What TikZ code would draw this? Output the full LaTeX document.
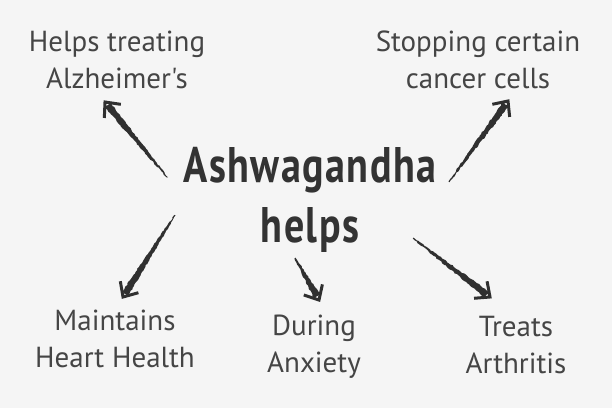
\documentclass[tikz,border=0pt]{standalone}
\usepackage{fontspec}
\setmainfont{PT Sans}
\newfontfamily\handfont{PT Sans}
\newfontfamily\titlefont[FakeStretch=0.8,LetterSpace=3]{PT Sans}
\usetikzlibrary{calc,decorations.pathmorphing}
\definecolor{bg}{HTML}{F5F5F5}
\definecolor{ink}{HTML}{333333}
\definecolor{hand}{HTML}{454545}
\definecolor{chalkc}{HTML}{303030}
\tikzset{
  label/.style={anchor=base, align=center, inner sep=0pt, text=hand,
    font=\handfont\fontsize{29}{37}\selectfont},
  titlelbl/.style={anchor=base, align=center, inner sep=0pt, text=ink,
    font=\titlefont\bfseries\fontsize{50}{60}\selectfont},
  chalk/.style={fill=chalkc, decorate, decoration={random steps, segment length=2pt, amplitude=0.6pt}},
  chalkhead/.style={draw=chalkc, line width=3pt, line join=miter, line cap=butt}
}
\newcommand\chalkarrow[2]{%
  \path ($(#2)!4pt!(#1)$) coordinate (ce);
  \fill[chalk] ($(#1)!0.6pt!90:(ce)$) -- ($(ce)!3.6pt!-90:(#1)$) -- ($(ce)!3.6pt!90:(#1)$) -- ($(#1)!0.6pt!-90:(ce)$) -- cycle;
  \draw[chalkhead] ($(#2)!16pt!42:(#1)$) -- (#2) -- ($(#2)!16pt!-42:(#1)$);
}
\begin{document}
\begin{tikzpicture}[x=1pt,y=-1pt]
\fill[bg] (0,0) rectangle (612,408);
\useasboundingbox (0,0) rectangle (612,408);

\node[titlelbl] (title) at (310,242) {Ashwagandha\\helps};

\node[label] (alz) at (117,88) {Helps treating\\Alzheimer's};
\node[label] (can) at (478,88) {Stopping certain\\cancer cells};
\node[label] (heart) at (115,367) {Maintains\\Heart Health};
\node[label] (anx) at (314,372) {During\\Anxiety};
\node[label] (art) at (516,373) {Treats\\Arthritis};

\coordinate (t1) at (167,177); \coordinate (h1) at (105,102);
\coordinate (t2) at (449,182); \coordinate (h2) at (508,101);
\coordinate (t3) at (175,215); \coordinate (h3) at (123,297);
\coordinate (t4) at (295,258); \coordinate (h4) at (319,300);
\coordinate (t5) at (413,238); \coordinate (h5) at (490,297);

\chalkarrow{t1}{h1}
\chalkarrow{t2}{h2}
\chalkarrow{t3}{h3}
\chalkarrow{t4}{h4}
\chalkarrow{t5}{h5}
\end{tikzpicture}
\end{document}
